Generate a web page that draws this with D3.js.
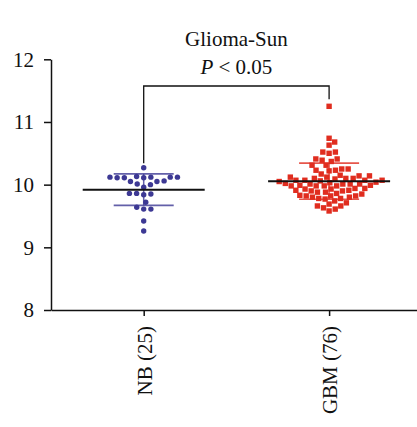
<!DOCTYPE html>
<html>
<head>
<meta charset="utf-8">
<script src="https://cdn.jsdelivr.net/npm/d3@7"></script>
<style>
  html, body { margin: 0; padding: 0; background: #fff; }
  svg { display: block; }
  text { font-family: "Liberation Serif", "Times New Roman", serif; fill: #111; }
</style>
</head>
<body>
<svg id="chart" width="417" height="427"></svg>
<script>
// Group labels (category axis)
const groups = ["NB (25)", "GBM (76)"];

// Expression values, normal brain
const nbValues = [
  10.27,
  10.12, 10.11, 10.12, 10.11, 10.12, 10.11, 10.13, 10.12,
  10.05, 10.05, 10.06,
  10.00, 10.01, 9.96,
  9.86, 9.85, 9.84, 9.86,
  9.72,
  9.64, 9.61, 9.61,
  9.42, 9.26
];

// Expression values, glioblastoma
const gbmValues = [
  11.25,
  10.74, 10.68, 10.63,
  10.52, 10.50, 10.52,
  10.39, 10.41, 10.37, 10.41,
  10.31, 10.31,
  10.25, 10.25, 10.22, 10.23, 10.23,
  10.15, 10.17,
  10.14, 10.10, 10.10, 10.09, 10.07, 10.06, 10.04, 10.07, 10.07, 10.07, 10.10, 10.12, 10.12, 10.14,
  10.05, 10.03, 10.02,
  10.01, 10.01, 9.98, 9.99, 9.98, 9.94, 9.93, 9.91, 9.90, 9.88, 9.88, 9.90, 9.91, 9.93, 9.94, 9.98, 9.99, 9.98, 10.01, 10.01,
  9.85, 9.83, 9.82, 9.78, 9.78, 9.77, 9.74, 9.80, 9.80, 9.82, 9.82, 9.86,
  9.71, 9.66, 9.61, 9.58, 9.63, 9.66, 9.69
];

// Y axis ticks and annotation text
const yTicks = [8, 9, 10, 11, 12];
const titleText = "Glioma-Sun";
const pLabel = ["P", " < 0.05"];

const svg = d3.select("#chart");
const plotLeft = 51, plotBottom = 310, plotTop = 59.3;
const fontSize = 21;

const y = d3.scaleLinear().domain([8, 12]).range([plotBottom, plotTop]);
const x = d3.scalePoint().domain(groups).range([plotLeft, 421.8]).padding(0.5);

// Collision-free dot layout (beeswarm) around each group's centre
function swarm(values, D) {
  const pts = values.map(v => ({ v, py: y(v), dx: 0 }))
    .sort((a, b) => a.v - b.v);
  const placed = [];
  for (const p of pts) {
    const cands = [0];
    for (const q of placed) {
      const dy = p.py - q.py;
      if (Math.abs(dy) < D) {
        const w = Math.sqrt(D * D - dy * dy);
        cands.push(q.dx + w, q.dx - w);
      }
    }
    cands.sort((a, b) => Math.abs(a) - Math.abs(b) || b - a);
    for (const c of cands) {
      const ok = placed.every(q => {
        const ddx = c - q.dx, ddy = p.py - q.py;
        return ddx * ddx + ddy * ddy >= D * D - 1e-6;
      });
      if (ok) { p.dx = c; break; }
    }
    placed.push(p);
  }
  return pts;
}

const series = [
  { name: groups[0], values: nbValues, color: "#3d3994", shape: "circle", gap: 7.2 },
  { name: groups[1], values: gbmValues, color: "#e02d1f", shape: "square", gap: 6.4 }
];

// Axes
const yAxis = d3.axisLeft(y).tickValues(yTicks).tickFormat(d3.format("d"))
  .tickSize(7).tickSizeOuter(0).tickPadding(10);
const gy = svg.append("g").attr("transform", `translate(${plotLeft},0)`).call(yAxis);
gy.select(".domain").attr("stroke", "#111").attr("stroke-width", 1.5);
gy.selectAll(".tick line").attr("stroke", "#111").attr("stroke-width", 1.5);
gy.selectAll(".tick text").attr("font-size", fontSize).attr("fill", "#111");

const xAxis = d3.axisBottom(x).tickSize(6).tickSizeOuter(0);
const gx = svg.append("g").attr("transform", `translate(0,${plotBottom})`).call(xAxis);
gx.select(".domain").attr("stroke", "#111").attr("stroke-width", 1.5);
gx.selectAll(".tick line").attr("stroke", "#111").attr("stroke-width", 1.5);
gx.selectAll(".tick text")
  .attr("font-size", fontSize).attr("fill", "#111")
  .attr("transform", "rotate(-90)")
  .attr("text-anchor", "end")
  .attr("x", -16).attr("y", 0).attr("dy", "0.35em");

// Points, mean and SD bars
series.forEach(s => {
  const cx = x(s.name);
  const pts = swarm(s.values, s.gap);
  const g = svg.append("g");
  if (s.shape === "circle") {
    g.selectAll("circle").data(pts).join("circle")
      .attr("cx", d => cx + d.dx).attr("cy", d => d.py).attr("r", 2.7)
      .attr("fill", s.color);
  } else {
    g.selectAll("rect").data(pts).join("rect")
      .attr("x", d => cx + d.dx - 2.7).attr("y", d => d.py - 2.7)
      .attr("width", 5.4).attr("height", 5.4)
      .attr("fill", s.color);
  }
  const m = d3.mean(s.values), sd = d3.deviation(s.values);
  const bars = svg.append("g");
  bars.append("line").attr("x1", cx).attr("x2", cx).attr("y1", y(m + sd)).attr("y2", y(m - sd))
    .attr("stroke", s.color).attr("stroke-width", 1.5).attr("opacity", 0.8);
  [m + sd, m - sd].forEach(v => {
    bars.append("line").attr("x1", cx - 30).attr("x2", cx + 30).attr("y1", y(v)).attr("y2", y(v))
      .attr("stroke", s.color).attr("stroke-width", 1.6).attr("opacity", 0.8);
  });
  bars.append("line").attr("x1", cx - 61).attr("x2", cx + 61).attr("y1", y(m)).attr("y2", y(m))
    .attr("stroke", "#111").attr("stroke-width", 2);
});

// Significance bracket
const bracketY = 86;
const nbTop = y(d3.max(nbValues)) - 4.5;
const gbmTop = y(d3.max(gbmValues)) - 7;
svg.append("path")
  .attr("d", `M${x(groups[0])},${nbTop}V${bracketY}H${x(groups[1])}V${gbmTop}`)
  .attr("fill", "none").attr("stroke", "#111").attr("stroke-width", 1.3);

const midX = (x(groups[0]) + x(groups[1])) / 2;
svg.append("text").attr("x", midX).attr("y", 46).attr("text-anchor", "middle")
  .attr("font-size", fontSize).text(titleText);
const pt = svg.append("text").attr("x", midX).attr("y", 73.5).attr("text-anchor", "middle")
  .attr("font-size", fontSize);
pt.append("tspan").attr("font-style", "italic").text(pLabel[0]);
pt.append("tspan").text(pLabel[1]);
</script>
</body>
</html>
